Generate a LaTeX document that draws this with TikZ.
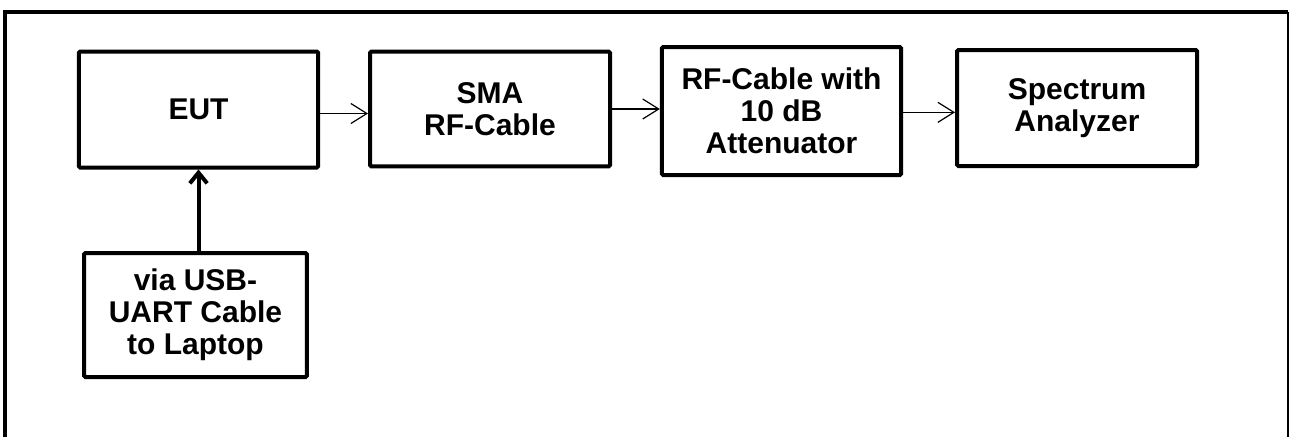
\documentclass[tikz,border=0pt]{standalone}
\usepackage{fontspec}
\setmainfont{Liberation Sans}
\usetikzlibrary{arrows.meta}
\begin{document}
\begin{tikzpicture}[x=0.75pt,y=-0.75pt,
  blk/.style={draw,line width=3pt,rounded corners=1pt,align=center,inner sep=0pt,
    font=\fontsize{22.5}{24}\selectfont\bfseries},
  thinarrow/.style={line width=0.9pt,-{Straight Barb[length=12pt,width=15pt]}},
  thickarrow/.style={line width=3pt,-{Straight Barb[length=8pt,width=13pt]}}]
\useasboundingbox (0,0) rectangle (1296,437);
% outer frame
\draw[line width=3pt] (5,437) -- (5,12) -- (1288,12);
\draw[line width=1pt] (1288,12) -- (1288,437);
\node[blk,minimum width=179.5pt,minimum height=87pt] (eut) at (198.5,109.5) {EUT};
\node[blk,minimum width=180pt,minimum height=86pt] (sma) at (490,109) {SMA\\RF-Cable};
\node[blk,minimum width=179.5pt,minimum height=96pt] (rf) at (781.5,111) {RF-Cable with\\10 dB\\Attenuator};
\node[blk,minimum width=180pt,minimum height=87pt] (spec) at (1077,108) {Spectrum\\Analyzer};
\node[blk,minimum width=167pt,minimum height=93pt] (usb) at (195.5,315) {via USB-\\UART Cable\\to Laptop};
\draw[thinarrow] ([yshift=-3pt]eut.east) -- ([yshift=-3pt]sma.west |- eut.east);
\draw[thinarrow] (sma.east) -- (rf.west |- sma.east);
\draw[thinarrow] ([yshift=-1pt]rf.east) -- ([yshift=-1pt]spec.west |- rf.east);
\draw[thickarrow] (usb.north -| eut.south) -- (eut.south);
\end{tikzpicture}
\end{document}
